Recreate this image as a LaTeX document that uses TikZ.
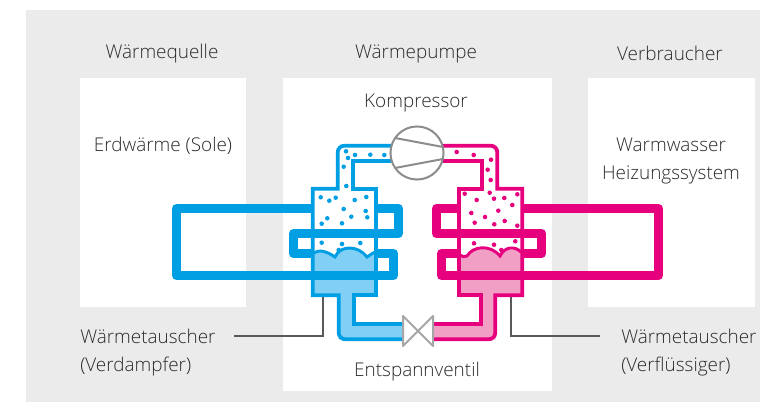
\documentclass[tikz,border=0pt]{standalone}
\usepackage{fontspec}
\setmainfont{Open Sans Light}[BoldFont={Open Sans}]
\usepackage{tikz}
\usetikzlibrary{calc}
\definecolor{kalt}{HTML}{009FE3}
\definecolor{kaltfl}{HTML}{82CFF5}
\definecolor{warm}{HTML}{E6007E}
\definecolor{warmfl}{HTML}{F29FC5}
\definecolor{flaeche}{HTML}{EBEBEB}
\definecolor{schrift}{HTML}{2B2B2B}
\definecolor{geraet}{HTML}{8C8C8C}
\tikzset{
    txt/.style={text=schrift,font=\fontsize{14.2}{21}\selectfont,inner sep=0pt,align=center},
    feld/.style={fill=white,draw=none},
    coil/.style={line width=6.75pt,line join=round},
    kanal/.style={line width=2.8pt,line join=miter},
    welle/.style={line width=2.2pt},
    leader/.style={draw=black!65,line width=0.8pt}
}
\begin{document}
\begin{tikzpicture}[x=0.75pt,y=-0.75pt]
    \useasboundingbox (0,0) rectangle (760,402);
    % Hintergrund
    \fill[flaeche] (26,10) rectangle (760,402);
    \fill[feld] (80,78) rectangle (246,307);
    \fill[feld] (283,78) rectangle (552,391);
    \fill[feld] (588,78) rectangle (755,307);

    % Texte
    \node[txt] (quelle) at (162,53.5) {Wärmequelle};
    \node[txt] (pumpe) at (416,53.5) {Wärmepumpe};
    \node[txt] (verbr) at (670,53.5) {Verbraucher};
    \node[txt] (kompr) at (416,103.5) {Kompressor};
    \node[txt] (erde) at (163,146) {Erdwärme (Sole)};
    \node[txt] (heiz) at (671,161) {Warmwasser\\Heizungssystem};
    \node[txt] (ventil) at (417,371.5) {Entspannventil};
    \node[txt,anchor=west,align=left] (wtl) at (80,353) {Wärmetauscher\\(Verdampfer)};
    \node[txt,anchor=west,align=left] (wtr) at (621,353) {Wärmetauscher\\(Verflüssiger)};

    % Hinweislinien
    \coordinate (wtlA) at (234,336);
    \coordinate (wtlB) at (323,297);
    \coordinate (wtrA) at (600,336);
    \coordinate (wtrB) at (511,297);
    \draw[leader] (wtlA) -| (wtlB);
    \draw[leader] (wtrA) -| (wtrB);

    % Sole-Kreis (links)
    \draw[coil,kalt] (176.5,208.5) -- (398.5,208.5) -- (398.5,233.5) -- (293.5,233.5) -- (293.5,253.5)
        -- (393.5,253.5) -- (393.5,275.5) -- (176.5,275.5) -- cycle;
    \fill[white] (312.7,295.3) -- (312.7,188.7) -- (337.7,188.7) -- (337.7,145.7) -- (391,145.7)
        -- (391,161.3) -- (353.3,161.3) -- (353.3,188.7) -- (376.3,188.7) -- (376.3,295.3) -- cycle;
    \fill[kaltfl] (312.7,253) .. controls (318,250) and (325,250) .. (335,257)
        .. controls (340,245) and (358,245) .. (367,257) .. controls (370,255) and (373,253) .. (376.3,252)
        -- (376.3,295.3) -- (354.3,295.3) -- (354.3,323.7) -- (403,323.7) -- (403,339.3) -- (338.7,339.3) -- (338.7,295.3)
        -- (312.7,295.3) -- cycle;
    \draw[kanal,kalt] (391,145.7) [rounded corners=5pt] -- (337.7,145.7) [sharp corners] -- (337.7,188.7) -- (312.7,188.7)
        -- (312.7,295.3) -- (338.7,295.3) [rounded corners=5pt] -- (338.7,339.3) [sharp corners] -- (403,339.3);
    \draw[kanal,kalt] (391,161.3) -- (353.3,161.3) -- (353.3,188.7) -- (376.3,188.7) -- (376.3,295.3)
        -- (354.3,295.3) -- (354.3,323.7) -- (403,323.7);
    \draw[welle,kalt] (314,253) .. controls (318,250) and (325,250) .. (335,257)
        .. controls (340,245) and (358,245) .. (367,257) .. controls (370,255) and (373,253) .. (375,252);
    \draw[coil,kalt] (311,233.5) -- (378,233.5);
    \draw[coil,kalt] (311,275.5) -- (378,275.5);
    \foreach \x/\y in {346/151.3,355/155,370.3/154.7,384.3/155,348/158,343.7/166.7,346.3/186,
        320.7/197.3,329.3/200.7,335.7/197.7,354.7/200,366.3/197,343.7/209,365.7/211,351.3/216.7,
        367.3/217.3,327.3/218.3,321.7/223.7,342/223.3,321.7/242.7,342/244,360.3/243,338.7/250}
        \fill[kalt] (\x,\y) circle (1.7pt);

    % Heizkreis (rechts)
    \draw[coil,warm] (658.5,208.5) -- (436.5,208.5) -- (436.5,233.5) -- (541.5,233.5) -- (541.5,253.5)
        -- (441.5,253.5) -- (441.5,275.5) -- (658.5,275.5) -- cycle;
    \fill[white] (522.3,295.3) -- (522.3,188.7) -- (497.3,188.7) -- (497.3,145.7) -- (443,145.7)
        -- (443,161.3) -- (481.7,161.3) -- (481.7,188.7) -- (458.7,188.7) -- (458.7,295.3) -- cycle;
    \fill[warmfl] (458.7,255) .. controls (462,257) and (465,257) .. (467,256)
        .. controls (473,246) and (490,244) .. (500,256) .. controls (505,246) and (515,246) .. (522.3,252)
        -- (522.3,295.3) -- (495.3,295.3) -- (495.3,339.3) -- (433,339.3) -- (433,323.7) -- (480.7,323.7) -- (480.7,295.3)
        -- (458.7,295.3) -- cycle;
    \draw[kanal,warm] (443,145.7) [rounded corners=5pt] -- (497.3,145.7) [sharp corners] -- (497.3,188.7) -- (522.3,188.7)
        -- (522.3,295.3) -- (495.3,295.3) [rounded corners=5pt] -- (495.3,339.3) [sharp corners] -- (433,339.3);
    \draw[kanal,warm] (443,161.3) -- (481.7,161.3) -- (481.7,188.7) -- (458.7,188.7) -- (458.7,295.3)
        -- (480.7,295.3) -- (480.7,323.7) -- (433,323.7);
    \draw[welle,warm] (460,255) .. controls (462,257) and (465,257) .. (467,256)
        .. controls (473,246) and (490,244) .. (500,256) .. controls (505,246) and (515,246) .. (521,252);
    \draw[coil,warm] (457,233.5) -- (524,233.5);
    \draw[coil,warm] (457,275.5) -- (524,275.5);
    \foreach \x/\y in {456.7/152,473.7/155,491/159.7,487.7/169.7,490.7/180,489.7/192.7,464.7/193.7,
        476.7/200,494/198.7,504.3/198,517.3/194.3,512.3/205,471.3/213,498.3/210.7,485/217,474.7/222.7,
        494.3/224.3,504.7/221,517.3/225.7,474/243.3,494/244.7,515.3/241.3,501.3/250}
        \fill[warm] (\x,\y) circle (1.7pt);

    % Kompressor
    \draw[geraet,fill=white,line width=1.5pt] (417,153) circle (19.9pt);
    \draw[geraet,line width=1.5pt] (395,138) -- (443,147) (395,168) -- (443,159);

    % Ventil
    \draw[black!35,fill=white,line width=1.5pt,line join=round] (403,316) -- (433,346) -- (433,316) -- (403,346) -- cycle;
\end{tikzpicture}
\end{document}
